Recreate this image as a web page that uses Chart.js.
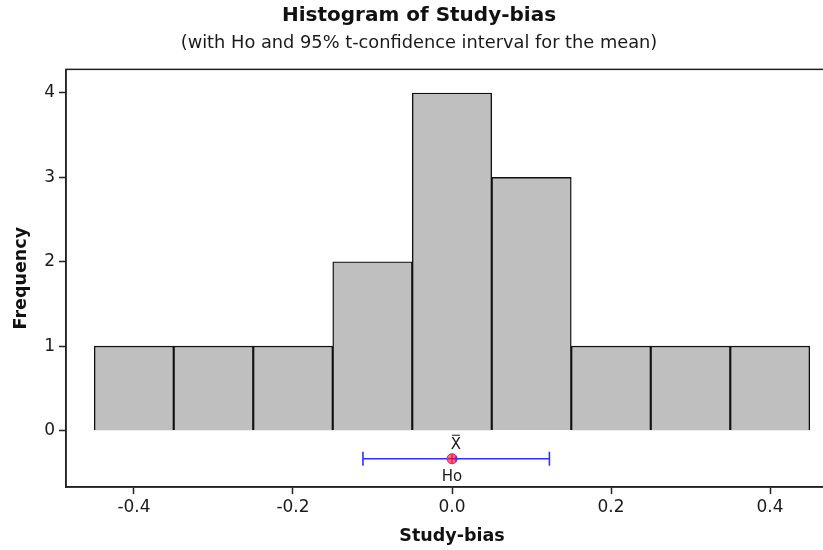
<!DOCTYPE html>
<html>
<head>
<meta charset="utf-8">
<title>Histogram of Study-bias</title>
<script src="https://cdn.jsdelivr.net/npm/chart.js@4.4.1/dist/chart.umd.min.js"></script>
<style>
    html, body { margin: 0; padding: 0; overflow: hidden; background: #fff; }
    #wrap { width: 823px; height: 550px; overflow: hidden; }
</style>
</head>
<body>
<div id="wrap"><canvas id="hist" width="858" height="550"></canvas></div>
<script>
// bin centres and counts
const binCenters = [-0.4, -0.3, -0.2, -0.1, 0.0, 0.1, 0.2, 0.3, 0.4];
const binCounts = [1, 1, 1, 2, 4, 3, 1, 1, 1];

const xTicks = [-0.4, -0.2, 0.0, 0.2, 0.4];
const yTicks = [0, 1, 2, 3, 4];

// 95% t-interval for the mean, plus Ho
const ciLow = -0.112;
const ciHigh = 0.1225;
const sampleMean = 0.005;
const hoValue = 0.0;
const ciLevel = -0.335;

const textColor = '#1a1a1a';
const fontFamily = '"DejaVu Sans", Verdana, sans-serif';

const frameAndLabels = {
    id: 'frameAndLabels',
    afterDraw(chart) {
        const { ctx, chartArea, scales } = chart;
        ctx.save();
        ctx.strokeStyle = '#222';
        ctx.lineWidth = 1.5;
        ctx.strokeRect(chartArea.left, chartArea.top, chartArea.right - chartArea.left, chartArea.bottom - chartArea.top);

        ctx.fillStyle = textColor;
        ctx.textAlign = 'center';
        ctx.textBaseline = 'middle';
        ctx.font = '15px ' + fontFamily;
        const mx = scales.x.getPixelForValue(sampleMean);
        const hx = scales.x.getPixelForValue(hoValue);
        const cy = scales.y.getPixelForValue(ciLevel);
        ctx.fillText('X', mx, cy - 14);
        ctx.beginPath();
        ctx.moveTo(mx - 4, cy - 23.5);
        ctx.lineTo(mx + 4, cy - 23.5);
        ctx.strokeStyle = textColor;
        ctx.lineWidth = 1;
        ctx.stroke();
        ctx.fillText('Ho', hx, cy + 18);
        ctx.restore();
    }
};

function formatX(v) {
    return Number(v).toFixed(1);
}

new Chart(document.getElementById('hist').getContext('2d'), {
    type: 'bar',
    data: {
        datasets: [
            {
                type: 'bar',
                data: binCenters.map((c, i) => ({ x: c, y: binCounts[i] })),
                backgroundColor: '#bfbfbf',
                borderColor: '#111',
                borderWidth: 1.4,
                barPercentage: 1,
                categoryPercentage: 1,
                order: 5
            },
            {
                type: 'scatter',
                data: [{ x: ciLow, y: ciLevel }, { x: ciHigh, y: ciLevel }],
                showLine: true,
                borderColor: '#3030ff',
                borderWidth: 1.4,
                pointStyle: 'line',
                rotation: 90,
                pointRadius: 7,
                pointBorderColor: '#3030ff',
                pointBorderWidth: 1.6,
                order: 3
            },
            {
                type: 'scatter',
                data: [{ x: hoValue, y: ciLevel }],
                pointStyle: 'circle',
                pointRadius: 5,
                backgroundColor: '#ff6688',
                borderColor: '#ee1144',
                borderWidth: 1,
                order: 2
            },
            {
                type: 'scatter',
                data: [{ x: hoValue, y: ciLevel }],
                pointStyle: 'cross',
                pointRadius: 4,
                borderColor: '#cc0033',
                borderWidth: 1,
                order: 1
            },
            {
                type: 'scatter',
                data: [{ x: sampleMean, y: ciLevel }],
                pointStyle: 'cross',
                pointRadius: 3,
                borderColor: '#3030ff',
                borderWidth: 1.2,
                order: 0
            }
        ]
    },
    options: {
        responsive: false,
        animation: false,
        layout: { padding: { left: 0, right: 20, top: 0, bottom: 0 } },
        plugins: {
            legend: { display: false },
            tooltip: { enabled: false },
            title: {
                display: true,
                text: 'Histogram of Study-bias',
                color: '#111',
                font: { family: fontFamily, size: 20, weight: 'bold' },
                padding: { top: 4, bottom: 2 }
            },
            subtitle: {
                display: true,
                text: '(with Ho and 95% t-confidence interval for the mean)',
                color: textColor,
                font: { family: fontFamily, size: 17.8 },
                padding: { top: 3, bottom: 15 }
            }
        },
        scales: {
            x: {
                type: 'linear',
                offset: false,
                min: -0.4855,
                max: 0.4855,
                afterBuildTicks: (scale) => { scale.ticks = xTicks.map(v => ({ value: v })); },
                afterFit: (scale) => { scale.height = 63; },
                ticks: {
                    color: textColor,
                    font: { family: fontFamily, size: 17 },
                    padding: 3,
                    callback: (v) => formatX(v)
                },
                grid: { display: true, offset: false, drawOnChartArea: false, tickLength: 7, tickColor: '#222', tickWidth: 1.5 },
                border: { display: true, color: '#222', width: 1.5 },
                title: {
                    display: true,
                    text: 'Study-bias',
                    color: '#111',
                    font: { family: fontFamily, size: 17.5, weight: 'bold' },
                    padding: { top: 2, bottom: 3 }
                }
            },
            y: {
                type: 'linear',
                min: -0.67,
                max: 4.28,
                afterBuildTicks: (scale) => { scale.ticks = yTicks.map(v => ({ value: v })); },
                afterFit: (scale) => { scale.width = 66; },
                ticks: {
                    color: textColor,
                    font: { family: fontFamily, size: 17 },
                    padding: 4
                },
                grid: { display: true, drawOnChartArea: false, tickLength: 7, tickColor: '#222', tickWidth: 1.5 },
                border: { display: true, color: '#222', width: 1.5 },
                title: {
                    display: true,
                    text: 'Frequency',
                    color: '#111',
                    font: { family: fontFamily, size: 17.5, weight: 'bold' },
                    padding: { top: 11, bottom: 0 }
                }
            }
        }
    },
    plugins: [frameAndLabels]
});
</script>
</body>
</html>
